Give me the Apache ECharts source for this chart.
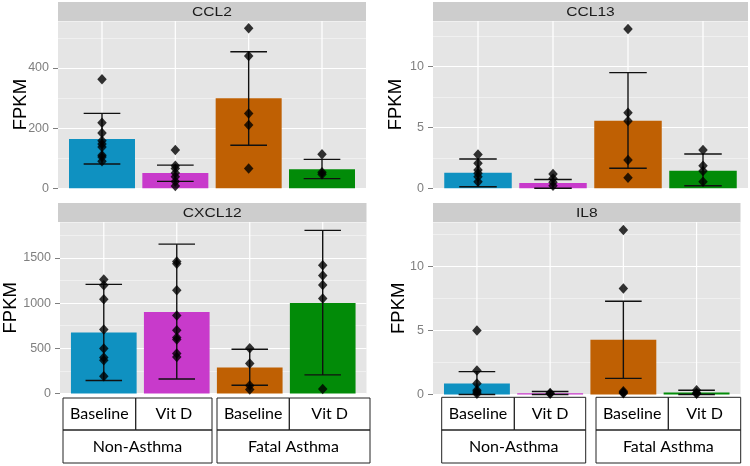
<!DOCTYPE html>
<html><head><meta charset="utf-8">
<script src="https://cdn.jsdelivr.net/npm/echarts@6/dist/echarts.min.js"></script>
<style>html,body{margin:0;padding:0;background:#fff}#c{width:750px;height:466px}</style>
</head><body><div id="c"></div>
<script>
// ---------- data ----------
const categories = ['Baseline', 'Vit D', 'Baseline', 'Vit D'];
const groups = ['Non-Asthma', 'Fatal Asthma'];
const genes = ['CCL2', 'CCL13', 'CXCL12', 'IL8'];
const barColors = ['#0f91c1', '#c83acb', '#bf6003', '#028b08'];

const ccl2Mean = [164, 51, 299, 63];
const ccl2Lo = [81, 23, 143, 32];
const ccl2Hi = [249, 77, 454, 96];
const ccl2Points = [[362, 218, 184, 158, 147, 137, 110, 104, 90], [127, 75, 66, 51, 38, 23, 8], [532, 440, 249, 210, 66], [113, 53, 47]];

const ccl13Mean = [1.28, 0.43, 5.54, 1.44];
const ccl13Lo = [0.13, 0.0, 1.64, 0.21];
const ccl13Hi = [2.4, 0.72, 9.48, 2.81];
const ccl13Points = [[2.78, 2.05, 1.5, 1.23, 0.95, 0.54], [1.17, 0.8, 0.5, 0.2], [13.06, 6.2, 5.52, 2.32, 0.87], [3.14, 1.85, 1.42, 0.54]];

const cxcl12Mean = [674, 902, 287, 1001];
const cxcl12Lo = [144, 161, 92, 206];
const cxcl12Hi = [1208, 1653, 489, 1805];
const cxcl12Points = [[1263, 1197, 1043, 707, 497, 398, 368, 191], [1462, 1436, 1142, 862, 700, 619, 597, 442, 404], [500, 331, 88, 44], [1418, 1307, 1200, 1050, 51]];

const il8Mean = [0.86, 0.1, 4.27, 0.16];
const il8Lo = [0.0, 0.0, 1.26, 0.0];
const il8Hi = [1.79, 0.23, 7.29, 0.33];
const il8Points = [[5.0, 1.87, 0.86, 0.33, 0.2, 0.05], [0.12, 0.05], [12.85, 8.28, 0.26, 0.16, 0.1], [0.33, 0.12, 0.05]];

const yMax = [556, 13.71, 1898, 13.48];
const yInterval = [200, 5, 500, 5];
const yTicks = [[0, 200, 400], [0, 5, 10], [0, 500, 1000, 1500], [0, 5, 10]];

// ---------- layout ----------
const panels = [
  {left: 58, top: 21, width: 308, height: 167.3, nameGap: 28},
  {left: 433, top: 21, width: 315, height: 167.3, nameGap: 28},
  {left: 58, top: 222, width: 308.5, height: 171.5, nameGap: 40},
  {left: 433, top: 222, width: 307.5, height: 172.5, nameGap: 25}
];
const stripH = 19;
const tables = [
  {yTop: 398, yMid: 430, yBot: 463, groups: [[63, 135.7, 212], [217, 289.3, 370]]},
  {yTop: 397.3, yMid: 430, yBot: 463, groups: [[441.7, 514.3, 585.7], [596, 668.3, 740.7]]}
];

const means = [ccl2Mean, ccl13Mean, cxcl12Mean, il8Mean];
const los = [ccl2Lo, ccl13Lo, cxcl12Lo, il8Lo];
const his = [ccl2Hi, ccl13Hi, cxcl12Hi, il8Hi];
const pts = [ccl2Points, ccl13Points, cxcl12Points, il8Points];

const chart = echarts.init(document.getElementById('c'), null, {renderer: 'canvas'});

const grid = [], xAxis = [], yAxis = [], series = [], graphic = [];
const FONT = 'Liberation Sans, Arial, sans-serif';

panels.forEach((p, i) => {
  grid.push({left: p.left, top: p.top, width: p.width, height: p.height, show: true,
    backgroundColor: '#e5e5e5', borderWidth: 0});
  xAxis.push({gridIndex: i, type: 'value', min: -0.6, max: 3.6, show: false, axisLine: {onZero: false}});
  yAxis.push({gridIndex: i, type: 'value', min: 0, max: yMax[i], interval: yInterval[i], z: 2,
    axisLine: {show: false, onZero: false},
    axisTick: {show: true, length: 5, lineStyle: {color: '#7f7f7f', width: 1}, customValues: yTicks[i]},
    axisLabel: {color: '#7f7f7f', fontSize: 12.5, fontFamily: FONT, margin: 9, customValues: yTicks[i],
      formatter: v => String(v)},
    splitLine: {show: true, lineStyle: {color: '#ffffff', width: 1.2}},
    name: 'FPKM', nameLocation: 'middle', nameGap: p.nameGap, nameMoveOverlap: false,
    nameTextStyle: {fontSize: 18.5, color: '#000', fontFamily: FONT}
  });
  yAxis.push({gridIndex: i, type: 'value', min: 0, max: yMax[i], interval: yInterval[i] / 2, z: 1,
    axisLine: {show: false, onZero: false}, axisTick: {show: false}, axisLabel: {show: false},
    splitLine: {show: true, lineStyle: {color: '#f2f2f2', width: 0.8}}
  });
  const yi = i * 2;
  series.push({type: 'custom', xAxisIndex: i, yAxisIndex: yi, z: 1, silent: true,
    data: categories.map((c, k) => [k]),
    renderItem: (params, api) => {
      const a = api.coord([api.value(0), 0]);
      const b = api.coord([api.value(0), yMax[i]]);
      return {type: 'line', shape: {x1: a[0], y1: a[1], x2: b[0], y2: b[1]},
        style: {stroke: '#ffffff', lineWidth: 1.2}};
    }
  });
  series.push({type: 'custom', xAxisIndex: i, yAxisIndex: yi, z: 2,
    data: means[i].map((v, k) => [k, v]),
    renderItem: (params, api) => {
      const x = api.value(0), v = api.value(1);
      const a = api.coord([x - 0.45, v]);
      const b = api.coord([x + 0.45, 0]);
      return {type: 'rect', shape: {x: a[0], y: a[1], width: b[0] - a[0], height: Math.max(b[1] - a[1], 0.8)},
        style: {fill: barColors[x]}};
    }
  });
  series.push({type: 'custom', xAxisIndex: i, yAxisIndex: yi, z: 3,
    data: means[i].map((v, k) => [k, los[i][k], his[i][k]]),
    renderItem: (params, api) => {
      const x = api.value(0);
      const lo = api.coord([x, api.value(1)]);
      const hi = api.coord([x, api.value(2)]);
      const hw = api.size([0.25, 0])[0];
      const st = {stroke: '#111', lineWidth: 1.4};
      return {type: 'group', children: [
        {type: 'line', shape: {x1: lo[0], y1: lo[1], x2: hi[0], y2: hi[1]}, style: st},
        {type: 'line', shape: {x1: lo[0] - hw, y1: lo[1], x2: lo[0] + hw, y2: lo[1]}, style: st},
        {type: 'line', shape: {x1: hi[0] - hw, y1: hi[1], x2: hi[0] + hw, y2: hi[1]}, style: st}
      ]};
    }
  });
  const pd = [];
  pts[i].forEach((arr, k) => arr.forEach(v => pd.push([k, v])));
  series.push({type: 'scatter', xAxisIndex: i, yAxisIndex: yi, z: 4, data: pd,
    symbol: 'diamond', symbolSize: [9.5, 10.5], itemStyle: {color: '#000'}});

  graphic.push({type: 'rect', shape: {x: p.left, y: p.top - stripH, width: p.width, height: stripH},
    style: {fill: '#cdcdcd'}, silent: true});
  graphic.push({type: 'text', x: p.left + p.width / 2, y: p.top - stripH / 2 + 0.5, scaleX: 1.2,
    style: {text: genes[i], fill: '#1a1a1a', font: '13px "Liberation Sans", Arial', align: 'center', verticalAlign: 'middle'}, silent: true});
});

tables.forEach(t => {
  t.groups.forEach((g, gi) => {
    const [x0, xd, x1] = g;
    const st = {fill: 'none', stroke: '#222', lineWidth: 1};
    graphic.push({type: 'rect', shape: {x: x0, y: t.yTop, width: xd - x0, height: t.yMid - t.yTop}, style: st});
    graphic.push({type: 'rect', shape: {x: xd, y: t.yTop, width: x1 - xd, height: t.yMid - t.yTop}, style: st});
    graphic.push({type: 'rect', shape: {x: x0, y: t.yMid, width: x1 - x0, height: t.yBot - t.yMid}, style: st});
    const tf = '16px Lato';
    graphic.push({type: 'text', x: (x0 + xd) / 2, y: (t.yTop + t.yMid) / 2,
      style: {text: categories[gi * 2], font: tf, fill: '#000', align: 'center', verticalAlign: 'middle'}});
    graphic.push({type: 'text', x: (xd + x1) / 2, y: (t.yTop + t.yMid) / 2,
      style: {text: categories[gi * 2 + 1], font: tf, fill: '#000', align: 'center', verticalAlign: 'middle'}});
    graphic.push({type: 'text', x: (x0 + x1) / 2, y: (t.yMid + t.yBot) / 2,
      style: {text: groups[gi], font: tf, fill: '#000', align: 'center', verticalAlign: 'middle'}});
  });
});

chart.setOption({
  backgroundColor: '#ffffff',
  animation: false,
  grid, xAxis, yAxis, series, graphic
});
</script></body></html>
